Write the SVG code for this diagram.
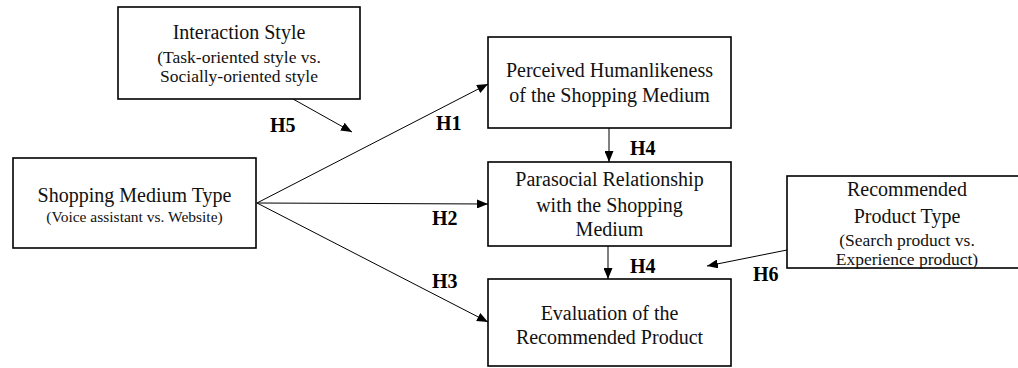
<svg xmlns="http://www.w3.org/2000/svg" width="1018" height="368" viewBox="0 0 1018 368">
<style>
.box{fill:#fff;stroke:#000;stroke-width:1.6}
.t{font-family:"Liberation Serif","Times New Roman",serif;fill:#111;text-anchor:middle}
.m{font-size:20px}
.s{font-size:17.5px}
.xs{font-size:15.5px}
.h{font-family:"Liberation Serif","Times New Roman",serif;font-weight:bold;font-size:20px;fill:#000}
.c{stroke:#000;stroke-width:1;fill:none;marker-end:url(#arr)}
</style>
<defs>
<marker id="arr" markerUnits="userSpaceOnUse" markerWidth="11" markerHeight="9" refX="11" refY="4.5" orient="auto">
<path d="M0,0 L11,4.5 L0,9 Z" fill="#000"/>
</marker>
</defs>
<rect width="1018" height="368" fill="#fff"/>
<g id="connectors">
<line class="c" x1="293" y1="99" x2="352" y2="132"/>
<line class="c" x1="257" y1="203" x2="488" y2="84"/>
<line class="c" x1="257" y1="203" x2="488" y2="204"/>
<line class="c" x1="257" y1="203" x2="488" y2="322"/>
<line class="c" x1="609" y1="128" x2="609" y2="162"/>
<line class="c" x1="608" y1="246" x2="608" y2="279"/>
<line class="c" x1="787" y1="250" x2="707" y2="266"/>
<text class="h" x="270" y="132">H5</text>
<text class="h" x="436" y="130">H1</text>
<text class="h" x="630" y="155">H4</text>
<text class="h" x="432" y="225">H2</text>
<text class="h" x="630" y="273">H4</text>
<text class="h" x="432" y="288">H3</text>
<text class="h" x="753" y="281">H6</text>
</g>
<g id="interaction">
<rect class="box" x="118" y="7" width="242" height="92"/>
<text class="t m" x="239" y="39">Interaction Style</text>
<text class="t s" x="239" y="63">(Task-oriented style vs.</text>
<text class="t s" x="239" y="82">Socially-oriented style</text>
</g>
<g id="shopping">
<rect class="box" x="13" y="158" width="243" height="90"/>
<text class="t m" x="134.5" y="202">Shopping Medium Type</text>
<text class="t xs" x="134.5" y="222">(Voice assistant vs. Website)</text>
</g>
<g id="humanlikeness">
<rect class="box" x="488" y="37" width="243" height="91"/>
<text class="t m" x="609.5" y="77">Perceived Humanlikeness</text>
<text class="t m" x="609.5" y="102">of the Shopping Medium</text>
</g>
<g id="parasocial">
<rect class="box" x="488" y="162" width="243" height="84"/>
<text class="t m" x="609.5" y="186">Parasocial Relationship</text>
<text class="t m" x="609.5" y="212">with the Shopping</text>
<text class="t m" x="609.5" y="236">Medium</text>
</g>
<g id="evaluation">
<rect class="box" x="488" y="279" width="243" height="87"/>
<text class="t m" x="609.5" y="320">Evaluation of the</text>
<text class="t m" x="609.5" y="344">Recommended Product</text>
</g>
<g id="product-type">
<rect class="box" x="787" y="176" width="240" height="92"/>
<text class="t m" x="907" y="196">Recommended</text>
<text class="t m" x="907" y="223">Product Type</text>
<text class="t s" x="907" y="246">(Search product vs.</text>
<text class="t s" x="907" y="265">Experience product)</text>
</g>
</svg>
